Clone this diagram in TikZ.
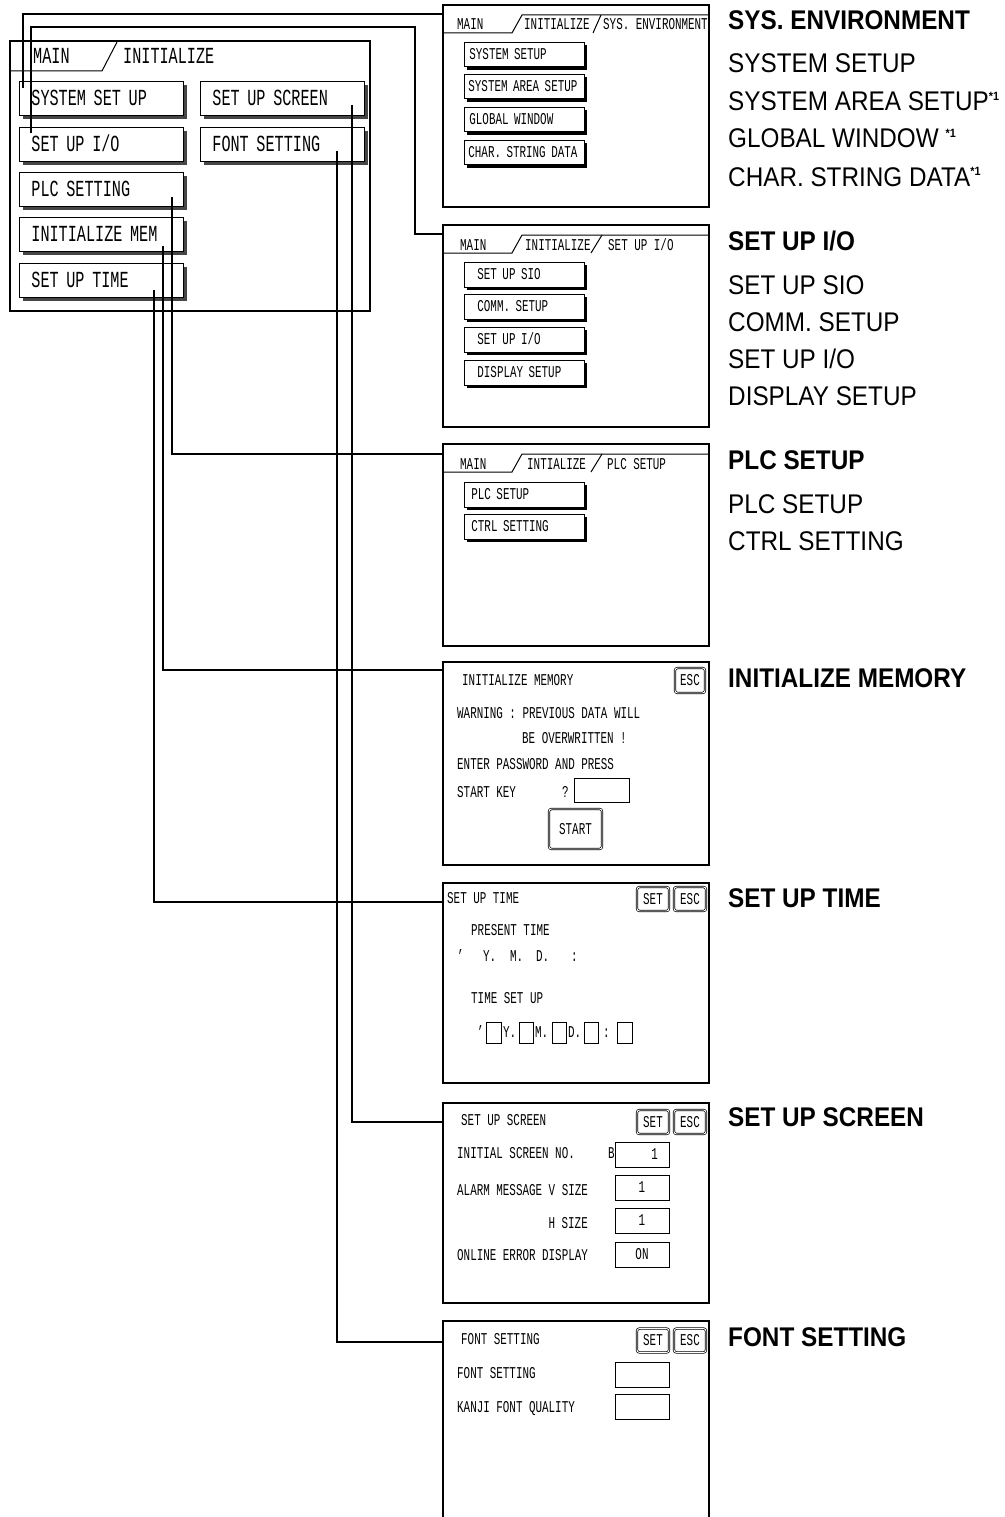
\documentclass[tikz,border=0pt]{standalone}
\usepackage{fontspec}
\setmainfont[FakeStretch=0.9]{Liberation Sans}
\newfontfamily\menufont[FakeStretch=0.66]{Liberation Mono}
\newfontfamily\lcdfont[FakeStretch=0.66]{Liberation Mono}
\usetikzlibrary{shadows}
\newcommand{\noteone}{\raisebox{10pt}{\fontsize{12}{12}\selectfont\bfseries *1}}
\begin{document}
\begin{tikzpicture}[x=1pt,y=-1pt,
  wire/.style={line width=2.4pt},
  frame/.style={line width=2pt},
  tabline/.style={line width=1pt},
  menutxt/.style={font=\menufont\fontsize{23}{23}\selectfont,inner sep=0pt,anchor=base west},
  lcd/.style={font=\lcdfont\fontsize{16.5}{17}\selectfont,inner sep=0pt,anchor=base west},
  menubtn/.style={draw,line width=0.8pt,fill=white,anchor=north west,
    font=\menufont\fontsize{23}{23}\selectfont,text height=15pt,text depth=0pt,
    inner xsep=12pt,inner ysep=0pt,text width=140pt,minimum height=34pt,
    drop shadow={fill=gray!55!black,opacity=1,shadow xshift=4pt,shadow yshift=-4pt}},
  scrbtn/.style={draw,line width=0.8pt,fill=white,anchor=north west,
    font=\lcdfont\fontsize{16.5}{17}\selectfont,text height=10pt,text depth=0pt,
    inner xsep=4pt,inner ysep=0pt,text width=112pt,minimum height=24.5pt,
    drop shadow={fill=black,opacity=1,shadow xshift=3pt,shadow yshift=-3pt}},
  keybtn/.style={draw,double,line width=0.7pt,double distance=0.9pt,rounded corners=2.5pt,
    minimum width=32pt,minimum height=24pt,inner sep=0pt,
    font=\lcdfont\fontsize{16.5}{17}\selectfont,text height=10pt,text depth=0pt},
  field/.style={draw,line width=0.8pt,minimum width=54pt,minimum height=25pt,inner sep=0pt,
    font=\lcdfont\fontsize{16.5}{17}\selectfont,text height=10pt,text depth=0pt},
  head/.style={font=\bfseries\fontsize{27}{29}\selectfont,inner sep=0pt,anchor=base west},
  item/.style={font=\fontsize{27}{29}\selectfont,inner sep=0pt,anchor=base west}]
  \useasboundingbox (0,0) rectangle (1004,1517);

  \draw[line width=2.6pt] (10,41) rectangle (370,311);
  \draw[tabline] (10,71) -- (102,71) -- (117,42);
  \node[menutxt] (mmain) at (33,64) {MAIN};
  \node[menutxt] (minit) at (123,64) {INITIALIZE};
  \node[menubtn] (sysset) at (19,81) {SYSTEM SET UP};
  \node[menubtn] (setio) at (19,127) {SET UP I/O};
  \node[menubtn] (plcset) at (19,172) {PLC SETTING};
  \node[menubtn] (initmem) at (19,217) {INITIALIZE MEM};
  \node[menubtn] (settime) at (19,263) {SET UP TIME};
  \node[menubtn] (setscr) at (200,81) {SET UP SCREEN};
  \node[menubtn] (fontset) at (200,127) {FONT SETTING};

  \draw[frame] (443,5) rectangle (709,207);
  \draw[tabline] (443,33) -- (512,33) -- (522,15) -- (709,15);
  \draw[tabline] (593,33) -- (601,15);
  \node[lcd] (ta1) at (457,30) {MAIN};
  \node[lcd] (tb1) at (524,30) {INITIALIZE};
  \node[lcd] (tc1) at (603,30) {SYS. ENVIRONMENT};
  \node[scrbtn,inner xsep=5pt,text width=110pt] (sysup) at (464,42) {SYSTEM SETUP};
  \node[scrbtn] (sysarea) at (464,74) {SYSTEM AREA SETUP};
  \node[scrbtn,inner xsep=5pt,text width=110pt] (globwin) at (464,107) {GLOBAL WINDOW};
  \node[scrbtn] (chardata) at (464,140) {CHAR. STRING DATA};

  \draw[frame] (443,225) rectangle (709,427);
  \draw[tabline] (443,253) -- (512,253) -- (522,235) -- (709,235);
  \draw[tabline] (591,253) -- (602,235);
  \node[lcd] (ta2) at (460,250) {MAIN};
  \node[lcd] (tb2) at (525,250) {INITIALIZE};
  \node[lcd] (tc2) at (608,250) {SET UP I/O};
  \node[scrbtn,inner xsep=13pt,text width=94pt] (sio) at (464,262) {SET UP SIO};
  \node[scrbtn,inner xsep=13pt,text width=94pt] (comm) at (464,294) {COMM. SETUP};
  \node[scrbtn,inner xsep=13pt,text width=94pt] (iosub) at (464,327) {SET UP I/O};
  \node[scrbtn,inner xsep=13pt,text width=94pt] (disp) at (464,360) {DISPLAY SETUP};

  \draw[frame] (443,444) rectangle (709,646);
  \draw[tabline] (443,472) -- (512,472) -- (522,454) -- (709,454);
  \draw[tabline] (591,472) -- (602,454);
  \node[lcd] (ta3) at (460,469) {MAIN};
  \node[lcd] (tb3) at (527,469) {INTIALIZE};
  \node[lcd] (tc3) at (607,469) {PLC SETUP};
  \node[scrbtn,inner xsep=7pt,text width=106pt] (plcup) at (464,482) {PLC SETUP};
  \node[scrbtn,inner xsep=7pt,text width=106pt] (ctrl) at (464,514) {CTRL SETTING};

  \draw[frame] (443,662) rectangle (709,865);
  \node[lcd] (memtitle) at (462,685) {INITIALIZE MEMORY};
  \node[keybtn,minimum width=30pt,minimum height=25pt] (memesc) at (690,680.5) {ESC};
  \node[lcd] (warn1) at (457,718) {WARNING : PREVIOUS DATA WILL};
  \node[lcd] (warn2) at (522,743) {BE OVERWRITTEN !};
  \node[lcd] (pass) at (457,769) {ENTER PASSWORD AND PRESS};
  \node[lcd] (startk) at (457,797) {START KEY};
  \node[lcd] (quest) at (562,797) {?};
  \node[field,minimum width=55pt,minimum height=24pt] (passbox) at (601.5,790) {};
  \node[keybtn,minimum width=53pt,minimum height=40pt] (startbtn) at (575.5,829) {START};

  \draw[frame] (443,883) rectangle (709,1083);
  \node[lcd] (timetitle) at (447,903) {SET UP TIME};
  \node[keybtn] (timeset) at (653,899) {SET};
  \node[keybtn] (timeesc) at (690,899) {ESC};
  \node[lcd] (present) at (471,935) {PRESENT TIME};
  \node[lcd] (pa) at (457,961) {’};
  \node[lcd] (py) at (483,961) {Y.};
  \node[lcd] (pm) at (510,961) {M.};
  \node[lcd] (pd) at (536,961) {D.};
  \node[lcd] (pc) at (571,961) {:};
  \node[lcd] (tsetup) at (471,1003) {TIME SET UP};
  \node[lcd] (sa) at (477,1037) {’};
  \node[field,minimum width=15pt,minimum height=21pt] (yy) at (493.5,1032.5) {};
  \node[lcd] (sy) at (503,1037) {Y.};
  \node[field,minimum width=14pt,minimum height=21pt] (mm) at (526,1032.5) {};
  \node[lcd] (sm) at (535,1037) {M.};
  \node[field,minimum width=14pt,minimum height=21pt] (dd) at (559,1032.5) {};
  \node[lcd] (sd) at (568,1037) {D.};
  \node[field,minimum width=14pt,minimum height=21pt] (hh) at (591,1032.5) {};
  \node[lcd] (sc) at (603,1037) {:};
  \node[field,minimum width=15pt,minimum height=21pt] (mi) at (624.5,1032.5) {};

  \draw[frame] (443,1103) rectangle (709,1303);
  \node[lcd] (scrtitle) at (461,1125) {SET UP SCREEN};
  \node[keybtn] (scrset) at (653,1122) {SET};
  \node[keybtn] (screscsc) at (690,1122) {ESC};
  \node[lcd] (initno) at (457,1158) {INITIAL SCREEN NO.};
  \node[lcd] (bb) at (608,1158) {B};
  \node[field,text width=32pt,align=right] (initbox) at (642,1154.5) {1};
  \node[lcd] (alarmv) at (457,1195) {ALARM MESSAGE V SIZE};
  \node[field] (vbox) at (642,1187.5) {1};
  \node[lcd,anchor=base east] (alarmh) at (588,1228) {H SIZE};
  \node[field] (hbox) at (642,1220.5) {1};
  \node[lcd] (online) at (457,1260) {ONLINE ERROR DISPLAY};
  \node[field] (onbox) at (642,1254.5) {ON};

  \draw[frame] (443,1517) -- (443,1321) -- (709,1321) -- (709,1517);
  \node[lcd] (fonttitle) at (461,1344) {FONT SETTING};
  \node[keybtn] (fontsetk) at (653,1340.5) {SET};
  \node[keybtn] (fontesc) at (690,1340.5) {ESC};
  \node[lcd] (fontlbl) at (457,1378) {FONT SETTING};
  \node[field] (fontbox) at (642,1374.5) {};
  \node[lcd] (kanji) at (457,1412) {KANJI FONT QUALITY};
  \node[field] (kanjibox) at (642,1406.5) {};

  \coordinate (sysset-o) at (23,88);
  \coordinate (setio-o) at (31,133);
  \coordinate (plcset-o) at (172,197);
  \coordinate (initmem-o) at (163,246);
  \coordinate (settime-o) at (154,290);
  \coordinate (setscr-o) at (352,105);
  \coordinate (fontset-o) at (337,151);
  \coordinate (setio-k) at (415,27);
  \coordinate (sysenv-i) at (443,14);
  \coordinate (setio-i) at (443,234);
  \coordinate (plcset-i) at (443,454);
  \coordinate (initmem-i) at (443,670);
  \coordinate (settime-i) at (443,902);
  \coordinate (setscr-i) at (443,1122);
  \coordinate (fontset-i) at (443,1342);
  \draw[wire] (sysset-o) |- (sysenv-i);
  \draw[wire] (setio-o) |- (setio-k) |- (setio-i);
  \draw[wire] (plcset-o) |- (plcset-i);
  \draw[wire] (initmem-o) |- (initmem-i);
  \draw[wire] (settime-o) |- (settime-i);
  \draw[wire] (setscr-o) |- (setscr-i);
  \draw[wire] (fontset-o) |- (fontset-i);

  \node[head] (hsys) at (728,30) {SYS. ENVIRONMENT};
  \node[item] (isys1) at (728,73) {SYSTEM SETUP};
  \node[item] (isys2) at (728,111) {SYSTEM AREA SETUP\noteone};
  \node[item] (isys3) at (728,148) {GLOBAL WINDOW \noteone};
  \node[item] (isys4) at (728,186) {CHAR. STRING DATA\noteone};
  \node[head] (hio) at (728,250) {SET UP I/O};
  \node[item] (iio1) at (728,294) {SET UP SIO};
  \node[item] (iio2) at (728,331) {COMM. SETUP};
  \node[item] (iio3) at (728,368) {SET UP I/O};
  \node[item] (iio4) at (728,405) {DISPLAY SETUP};
  \node[head] (hplc) at (728,469) {PLC SETUP};
  \node[item] (iplc1) at (728,513) {PLC SETUP};
  \node[item] (iplc2) at (728,550) {CTRL SETTING};
  \node[head] (hmem) at (728,687) {INITIALIZE MEMORY};
  \node[head] (htime) at (728,907) {SET UP TIME};
  \node[head] (hscr) at (728,1126) {SET UP SCREEN};
  \node[head] (hfont) at (728,1346) {FONT SETTING};
\end{tikzpicture}
\end{document}
